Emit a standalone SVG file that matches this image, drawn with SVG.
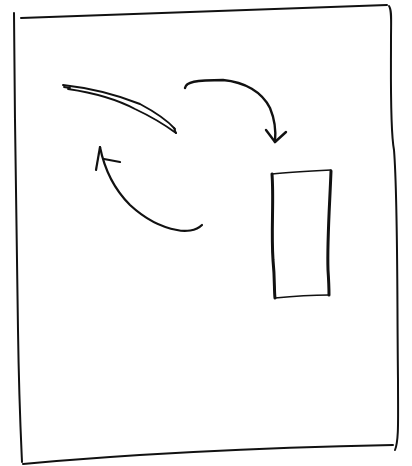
<svg xmlns="http://www.w3.org/2000/svg" width="412" height="466" viewBox="0 0 412 466">
<style>
.ink{fill:none;stroke:#111;stroke-linecap:round;stroke-linejoin:round}
.thin{stroke-width:1.4}
.arcs{stroke-width:1.9}
.mid{stroke-width:2}
.thick{stroke-width:3}
</style>
<rect width="412" height="466" fill="#fff"/>
<g id="frame" class="ink mid">
<path d="M21,18 C120,14 250,10 387,5"/>
<path d="M14,13 C15,120 16,250 18,330 C19,400 21,440 22,462"/>
<path d="M389,6 C392,10 391,20 391,40 C391,80 390,130 394,150 C398,200 397,300 398,380 C398,420 399,440 395,450"/>
<path d="M23,464 C120,455 250,448 393,445"/>
</g>
<g id="arc-shape" class="ink arcs">
<path d="M63,85 C90,88 120,96 140,104 C155,112 168,121 175,129"/>
<path d="M68,89 C95,93 118,100 135,109 C150,116 165,125 176,133"/>
<path d="M64,87 L70,88"/>
<path d="M174,128 L176,133"/>
</g>
<g id="box" class="ink">
<path class="thin" d="M272,174 C290,172 310,171 331,170"/>
<path class="thick" d="M272,174 C274,200 271,230 273,260 C275,280 274,290 275,298"/>
<path class="thick" d="M331,171 C330,200 327,240 328,270 C329,285 329,292 329,295"/>
<path class="thin" d="M275,298 C295,296 312,295 329,295"/>
</g>
<g id="connectors" class="ink">
<g id="arrow-right" stroke-width="2.4">
<path d="M185,88 C186,82 195,80 223,80 C245,82 262,92 270,108 C275,120 276,132 275,142"/>
<path d="M266,130 L275,142 L286,132"/>
</g>
<g id="arrow-left" stroke-width="2.2">
<path d="M202,225 C196,231 185,232 177,230 C160,227 143,217 130,205 C115,190 105,172 100,147"/>
<path d="M96,170 L100,147"/>
<path d="M104,159 L120,162"/>
</g>
</g>
</svg>
